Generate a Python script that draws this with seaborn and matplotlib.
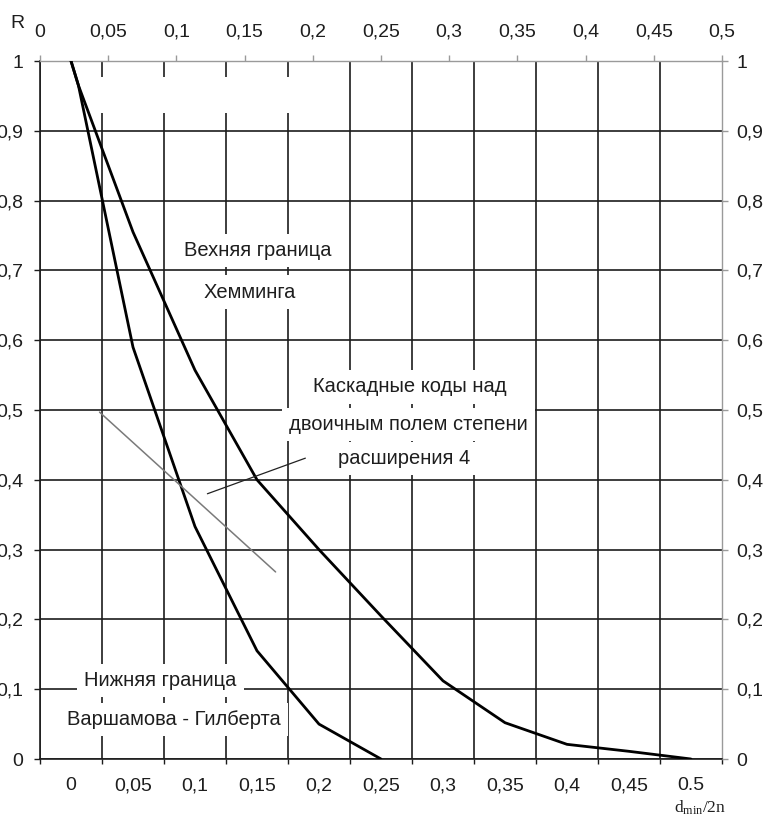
import matplotlib
matplotlib.use("Agg")
import numpy as np
import pandas as pd
import matplotlib.pyplot as plt
import seaborn as sns
from matplotlib.patches import Rectangle

# ---------------- data ----------------
delta_hamming = [0.0, 0.006, 0.05, 0.10, 0.15, 0.20, 0.25, 0.30, 0.35, 0.40, 0.45, 0.50]
rate_hamming = [1.0, 0.965, 0.755, 0.557, 0.400, 0.300, 0.205, 0.112, 0.052, 0.021, 0.011, 0.0]

delta_gv = [0.0, 0.006, 0.05, 0.10, 0.15, 0.20, 0.25]
rate_gv = [1.0, 0.965, 0.590, 0.333, 0.155, 0.050, 0.0]

delta_cascade = [0.023, 0.165]
rate_cascade = [0.497, 0.268]

delta_pointer = [0.110, 0.189]
rate_pointer = [0.380, 0.431]

y_ticks = [0.0, 0.1, 0.2, 0.3, 0.4, 0.5, 0.6, 0.7, 0.8, 0.9, 1.0]
y_labels = ["0", "0,1", "0,2", "0,3", "0,4", "0,5", "0,6", "0,7", "0,8", "0,9", "1"]

x_ticks = [0.0, 0.05, 0.10, 0.15, 0.20, 0.25, 0.30, 0.35, 0.40, 0.45, 0.50]
top_labels = ["0", "0,05", "0,1", "0,15", "0,2", "0,25", "0,3", "0,35", "0,4", "0,45", "0,5"]
bottom_labels = ["0", "0,05", "0,1", "0,15", "0,2", "0,25", "0,3", "0,35", "0,4", "0,45", "0.5"]

# ---------------- style ----------------
sns.set_style("white")
plt.rcParams["font.family"] = ["Liberation Sans", "DejaVu Sans"]
plt.rcParams["mathtext.fontset"] = "custom"
plt.rcParams["mathtext.rm"] = "Liberation Serif"
plt.rcParams["mathtext.it"] = "Liberation Serif"

GRID = "#1c1c1c"
TXT = "#1e1e1e"
FS = 14
FS_TXT = 14.5

fig = plt.figure(figsize=(7.67, 8.19), dpi=100)
ax = fig.add_axes([40 / 767, 60 / 819, 682 / 767, 698 / 819])

df_h = pd.DataFrame({"delta": delta_hamming, "R": rate_hamming})
df_g = pd.DataFrame({"delta": delta_gv, "R": rate_gv})
df_c = pd.DataFrame({"delta": delta_cascade, "R": rate_cascade})
df_p = pd.DataFrame({"delta": delta_pointer, "R": rate_pointer})

sns.lineplot(data=df_h, x="delta", y="R", ax=ax, color="black", lw=2.0,
             sort=False, estimator=None, zorder=4)
sns.lineplot(data=df_g, x="delta", y="R", ax=ax, color="black", lw=2.0,
             sort=False, estimator=None, zorder=4)
sns.lineplot(data=df_c, x="delta", y="R", ax=ax, color="#7a7a7a", lw=1.1,
             sort=False, estimator=None, zorder=4)
sns.lineplot(data=df_p, x="delta", y="R", ax=ax, color="#222222", lw=0.9,
             sort=False, estimator=None, zorder=4)

ax.set_xlim(-0.025, 0.525)
ax.set_ylim(0, 1)
ax.set_xlabel("")
ax.set_ylabel("")

# bottom axis: labels at category centres, grid/ticks at category borders
ax.set_xticks(x_ticks)
ax.set_xticklabels(bottom_labels, fontsize=FS, color=TXT)
ax.set_xticks([-0.025 + 0.05 * i for i in range(12)], minor=True)
ax.tick_params(axis="x", which="major", length=0, pad=13)
ax.tick_params(axis="x", which="minor", direction="out", length=3.5,
               width=1.0, color=GRID)

ax.set_yticks(y_ticks)
ax.set_yticklabels(y_labels, fontsize=FS, color=TXT)
ax.tick_params(axis="y", which="major", direction="out", length=4,
               width=1.0, color=GRID, pad=8)

ax.set_axisbelow(True)
ax.grid(False)
ax.xaxis.grid(True, which="minor", color=GRID, lw=1.2)
ax.yaxis.grid(True, which="major", color=GRID, lw=1.2)
ax.xaxis.grid(False, which="major")
for gl in ax.get_ygridlines()[-1:]:
    gl.set_visible(False)
for t in ax.xaxis.get_minor_ticks()[-1:]:
    t.gridline.set_visible(False)

for side in ["left", "bottom"]:
    ax.spines[side].set_color(GRID)
    ax.spines[side].set_linewidth(1.2)
for side in ["top", "right"]:
    ax.spines[side].set_color("#9a9a9a")
    ax.spines[side].set_linewidth(1.0)

# top axis
ax2 = ax.twiny()
ax2.set_xlim(0, 0.5)
ax2.set_xticks(x_ticks)
ax2.set_xticklabels(top_labels, fontsize=FS, color=TXT)
ax2.tick_params(axis="x", direction="out", length=4.5, width=1.0,
                color="#9a9a9a", pad=10)
for s in ax2.spines.values():
    s.set_visible(False)

# right axis
ax3 = ax.twinx()
ax3.set_ylim(0, 1)
ax3.set_yticks(y_ticks)
ax3.set_yticklabels(y_labels, fontsize=FS, color=TXT)
ax3.tick_params(axis="y", direction="out", length=4.5, width=1.0,
                color="#9a9a9a", pad=6)
for s in ax3.spines.values():
    s.set_visible(False)

# white patch that hides gridlines near the top (as in the original)
ax.add_patch(Rectangle((-0.009, 0.925), 0.21, 0.052, facecolor="white",
                       edgecolor="none", zorder=1.5))

box = dict(boxstyle="square,pad=0.35", facecolor="white", edgecolor="none")
labels = [
    ("Вехняя граница", 0.151, 0.728),
    ("Хемминга", 0.144, 0.669),
    ("Каскадные коды над", 0.273, 0.533),
    ("двоичным полем степени", 0.272, 0.479),
    ("расширения 4", 0.269, 0.431),
    ("Нижняя граница", 0.072, 0.113),
    ("Варшамова - Гилберта", 0.083, 0.056),
]
for s, x, y in labels:
    ax.text(x, y, s, ha="center", va="center", fontsize=FS_TXT, color=TXT,
            bbox=box, zorder=2)

fig.text(17 / 767, 1 - 23 / 819, "R", fontsize=FS, color=TXT,
         ha="center", va="center")
fig.text(700 / 767, 1 - 808 / 819, r"d$_{\mathrm{min}}$/2n", fontsize=12.5,
         color=TXT, ha="center", va="center", family="Liberation Serif")

fig.savefig("out.png", dpi=100)
